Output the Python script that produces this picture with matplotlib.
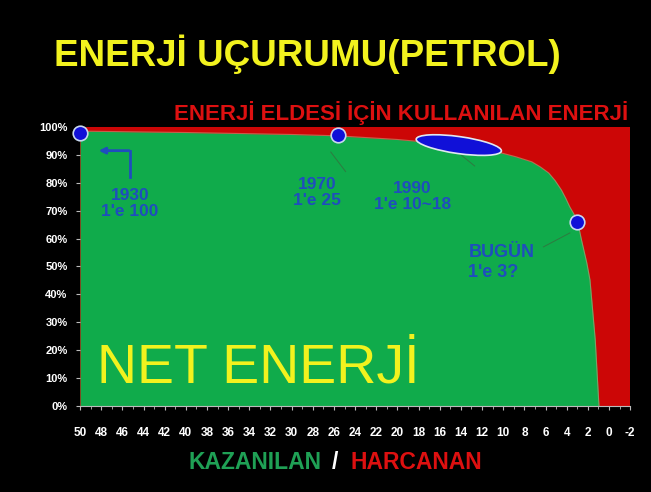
import matplotlib.pyplot as plt
import matplotlib.transforms as mtransforms
from matplotlib.patches import Ellipse

# Net energy curve (top edge of the green area)
curve_x = [50, 40, 30, 25.6, 20, 14.2, 12.0, 10.2, 8.8, 7.3, 6.5, 5.7, 5.1, 4.5, 4.1,
           3.7, 3.35, 3.0, 2.6, 2.1, 1.8, 1.3, 0.95]
curve_y = [98.5, 98.0, 97.3, 96.8, 95.5, 93.5, 92.3, 90.7, 89.3, 87.5, 85.7, 83.5, 80.8,
           77.4, 74.5, 71.3, 69.0, 66.7, 59.5, 51.3, 45.2, 23.7, 0]

# Marked points
point_x = [50, 25.6, 3.0]
point_y = [97.8, 97.0, 66.0]
ellipse_x = 14.2
ellipse_y = 93.5

labels = ["1930\n1'e 100", "1970\n1'e 25", "1990\n1'e 10~18", "BUGÜN\n1'e 3?"]

x_ticks = list(range(50, -3, -2))
y_ticks = list(range(0, 101, 10))

GREEN = '#10AB4B'
RED = '#CC0606'
BLUE = '#1010D8'
TXT_BLUE = '#1F4DBE'
YELLOW = '#F2F21E'

plt.rcParams['font.family'] = ['Liberation Sans', 'DejaVu Sans']

fig = plt.figure(figsize=(6.51, 4.92), dpi=100, facecolor='black')
ax = fig.add_axes([0.123, 0.175, 0.845, 0.567])
ax.set_facecolor('black')

# red background (energy spent) and green net energy
ax.fill_between([50, -2], [100, 100], 0, color=RED, lw=0)
ax.fill_between(curve_x, curve_y, 0, color=GREEN, lw=0)
ax.plot(curve_x, curve_y, color='#C89A7A', lw=0.8, alpha=0.6)

ax.set_xlim(50, -2)
ax.set_ylim(0, 100)

ax.set_xticks(x_ticks)
ax.set_xticklabels([str(v) for v in x_ticks])
ax.set_xticks(range(50, -3, -1), minor=True)
ax.set_yticks(y_ticks)
ax.set_yticklabels([f'{v}%' for v in y_ticks])
ax.tick_params(axis='x', colors='#BBBBBB', labelcolor='white', labelsize=8.5,
               length=3, pad=12, direction='out')
ax.tick_params(axis='x', which='minor', colors='#BBBBBB', length=2)
ax.tick_params(axis='y', colors='#BBBBBB', labelcolor='white', labelsize=8,
               length=3, pad=6)
for lab in ax.get_xticklabels() + ax.get_yticklabels():
    lab.set_fontweight('bold')
for side in ['top', 'right']:
    ax.spines[side].set_visible(False)
ax.spines['left'].set_visible(False)
ax.spines['bottom'].set_color('#BBBBBB')
ax.spines['bottom'].set_linewidth(0.8)

# leader lines
ax.plot([24.9, 26.3], [84, 91], color='#2E7A40', lw=0.7)
ax.plot([12.7, 14.0], [86, 90], color='#2E7A40', lw=0.7)
ax.plot([6.2, 3.7], [57, 62], color='#2E7A40', lw=0.7)

# markers
ax.scatter(point_x, point_y, s=110, color=BLUE, edgecolor='#C8D8F0', linewidth=1.2,
           zorder=5, clip_on=False)
offset = mtransforms.ScaledTranslation(ellipse_x, ellipse_y, ax.transData)
ell = Ellipse((0, 0), 0.86, 0.17, angle=-8, facecolor=BLUE, edgecolor='#E0E8F0',
              linewidth=1.2, transform=fig.dpi_scale_trans + offset, zorder=5)
ax.add_patch(ell)

# 1930 arrow
ax.plot([45.3, 45.3], [82, 91.5], color=TXT_BLUE, lw=2)
ax.annotate('', xy=(48.5, 91.5), xytext=(45.1, 91.5),
            arrowprops=dict(arrowstyle='-|>', color=TXT_BLUE, lw=2, mutation_scale=9))

# labels
ax.text(45.3, 72.5, labels[0], color=TXT_BLUE, fontsize=12.5, ha='center', va='center',
        linespacing=1.1, fontweight='bold')
ax.text(27.6, 76.5, labels[1], color=TXT_BLUE, fontsize=12.5, ha='center', va='center',
        linespacing=1.1, fontweight='bold')
ax.text(18.6, 75.0, labels[2], color=TXT_BLUE, fontsize=12.5, ha='center', va='center',
        linespacing=1.1, fontweight='bold')
ax.text(13.3, 51.5, labels[3], color=TXT_BLUE, fontsize=13, ha='left', va='center',
        linespacing=1.2, fontweight='bold')

ax.text(48.4, 13.5, 'NET ENERJİ', color=YELLOW, fontsize=40, ha='left', va='center')

# titles
fig.text(0.083, 0.89, 'ENERJİ UÇURUMU(PETROL)', color=YELLOW, fontsize=26.5,
         fontweight='bold', ha='left', va='center')
fig.text(0.965, 0.77, 'ENERJİ ELDESİ İÇİN KULLANILAN ENERJİ', color='#DD1010',
         fontsize=16, fontweight='bold', ha='right', va='center')

# bottom caption
fig.text(0.494, 0.06, 'KAZANILAN', color='#1FA055', fontsize=16.5, fontweight='bold',
         ha='right', va='center')
fig.text(0.514, 0.06, '/', color='white', fontsize=16.5, fontweight='bold',
         ha='center', va='center')
fig.text(0.538, 0.06, 'HARCANAN', color='#DD1010', fontsize=16.5, fontweight='bold',
         ha='left', va='center')

fig.savefig('out.png', dpi=100, facecolor='black')
